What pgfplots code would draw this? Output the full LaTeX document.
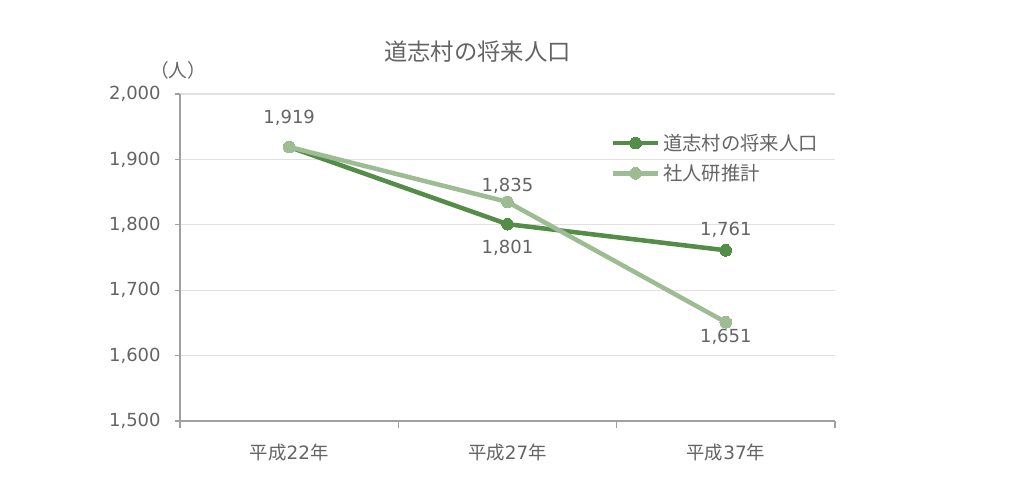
\documentclass[border=0pt]{standalone}
\usepackage{fontspec}
\setmainfont{DejaVu Sans}
\newfontfamily\cjk{Noto Sans CJK JP}
\usepackage{pgfplots}
\pgfplotsset{compat=1.18}
\definecolor{dkg}{RGB}{84,141,72}
\definecolor{ltg}{RGB}{157,188,148}
\definecolor{txt}{RGB}{100,100,100}
\definecolor{axc}{RGB}{160,160,160}
\definecolor{grd}{RGB}{224,224,224}
\begin{document}
\begin{tikzpicture}
\path[use as bounding box] (0,0) rectangle (768pt,375.75pt);
\begin{axis}[
  at={(135pt,60pt)}, anchor=south west,
  scale only axis, width=491.25pt, height=245.25pt,
  xmin=-0.5, xmax=2.5, ymin=1500, ymax=2000,
  ytick={1500,1600,...,2000},
  xtick={0,1,2}, xticklabels={{\cjk 平成}22{\cjk 年},{\cjk 平成}27{\cjk 年},{\cjk 平成}37{\cjk 年}},
  minor xtick={-0.5,0.5,1.5,2.5},
  major x tick style={draw=none},
  minor x tick style={draw=axc, line width=0.8pt},
  minor tick length=5pt,
  major tick length=4pt,
  tick align=outside,
  xtick pos=lower, ytick pos=left,
  y tick style={draw=axc, line width=0.8pt},
  axis x line*=bottom, axis y line*=left,
  axis line style={draw=axc, line width=1.2pt, -},
  ymajorgrids, grid style={draw=grd, line width=0.8pt},
  /pgf/number format/assume math mode=true,
  /pgf/number format/.cd, 1000 sep={,}, /pgfplots/.cd,
  tick label style={font=\fontsize{13.5}{16}\selectfont, text=txt},
  yticklabel style={xshift=-7pt},
  xticklabel style={yshift=-10pt, font=\fontsize{13.8}{16}\selectfont},
  legend style={draw=none, fill=none, at={(0.657,0.887)}, anchor=north west,
    font=\fontsize{14.5}{17}\selectfont\cjk, text=txt, row sep=5pt,
    inner sep=0pt},
  legend cell align=left,
  legend image code/.code={\draw[mark repeat=2,mark phase=2] plot coordinates {(0pt,0pt)(17pt,0pt)(34pt,0pt)};},
  clip=false,
]
\addplot[dkg, line width=3.4pt, mark=*, mark size=4.4pt, mark options={fill=dkg, draw=dkg, line width=0pt}]
  coordinates {(0,1919) (1,1801) (2,1761)};
\addlegendentry{道志村の将来人口}
\addplot[ltg, line width=3.4pt, mark=*, mark size=4.4pt, mark options={fill=ltg, draw=ltg, line width=0pt}]
  coordinates {(0,1919) (1,1835) (2,1651)};
\addlegendentry{社人研推計}
\begin{scope}[every node/.style={font=\fontsize{13.5}{17}\selectfont, text=txt}]
\node at ([yshift=21.75pt]axis cs:0,1919) {1,919};
\node at ([yshift=12pt]axis cs:1,1835) {1,835};
\node at ([yshift=-18pt]axis cs:1,1801) {1,801};
\node at ([yshift=15pt]axis cs:2,1761) {1,761};
\node at ([yshift=-11.25pt]axis cs:2,1651) {1,651};
\end{scope}
\end{axis}
\node[font=\fontsize{17.5}{20}\selectfont\cjk, text=txt] at (358pt,336.75pt) {道志村の将来人口};
\node[font=\fontsize{14}{16}\selectfont\cjk, text=txt] at (133.5pt,323.25pt) {（人）};
\end{tikzpicture}
\end{document}
